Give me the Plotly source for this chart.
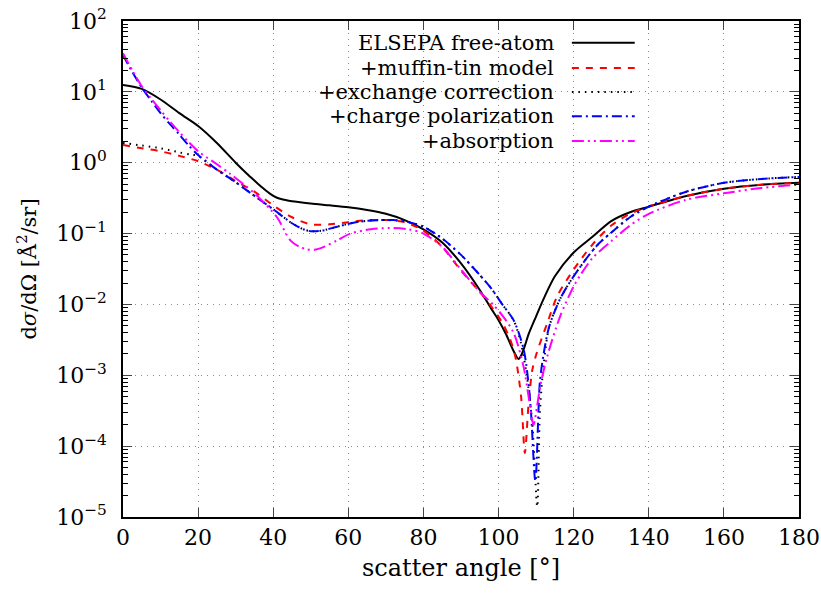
import plotly.graph_objects as go

# ---------------- data ----------------
ang_free = [0, 5, 10, 15, 20, 25, 30, 33, 35, 37, 39, 41, 43, 45, 50, 55, 60, 65, 70, 75, 80, 85, 90, 95, 98, 100, 102, 104, 105.3, 106, 107, 108, 110, 112, 115, 120, 125, 130, 135, 140, 150, 160, 170, 180]
val_free = [12.5, 11, 7.8, 5.0, 3.3, 1.9, 1.0, 0.7, 0.56, 0.45, 0.37, 0.32, 0.3, 0.285, 0.265, 0.25, 0.235, 0.215, 0.19, 0.155, 0.115, 0.075, 0.038, 0.016, 0.0088, 0.006, 0.0038, 0.0022, 0.0017, 0.0019, 0.0026, 0.0038, 0.0068, 0.012, 0.025, 0.054, 0.09, 0.15, 0.2, 0.24, 0.34, 0.43, 0.49, 0.52]

ang_mt = [0, 5, 10, 15, 20, 25, 30, 35, 40, 45, 50, 55, 60, 65, 70, 75, 80, 85, 90, 95, 98, 101, 103, 104.5, 106, 107, 108, 109, 110.2, 113, 115.6, 120, 125, 130, 135, 140, 150, 160, 170, 180]
val_mt = [1.78, 1.6, 1.45, 1.25, 1.05, 0.8, 0.55, 0.39, 0.25, 0.17, 0.135, 0.135, 0.145, 0.155, 0.155, 0.145, 0.11, 0.065, 0.03, 0.015, 0.0095, 0.0055, 0.0033, 0.0018, 0.0005, 0.00008, 0.0004, 0.0012, 0.0021, 0.0055, 0.013, 0.031, 0.07, 0.13, 0.19, 0.24, 0.34, 0.43, 0.49, 0.52]

ang_ex = [0, 5, 10, 15, 18, 20, 25, 30, 35, 40, 45, 48, 50, 53, 57, 62, 68, 72, 76, 80, 85, 90, 95, 98, 101, 104, 106, 107.5, 109, 110.3, 111, 112, 113.5, 116.4, 120, 126, 130.6, 135, 140, 150, 160, 170, 180]
val_ex = [1.9, 1.75, 1.6, 1.4, 1.3, 1.25, 0.8, 0.53, 0.34, 0.22, 0.14, 0.115, 0.108, 0.11, 0.125, 0.145, 0.155, 0.155, 0.145, 0.125, 0.085, 0.05, 0.026, 0.017, 0.01, 0.006, 0.0028, 0.001, 0.0002, 0.000014, 0.0003, 0.0014, 0.0049, 0.012, 0.025, 0.066, 0.11, 0.17, 0.24, 0.39, 0.52, 0.59, 0.63]

ang_pol = [0, 2.5, 5, 7.5, 10, 12.5, 15, 17.5, 20, 25, 30, 35, 40, 45, 48, 50, 53, 57, 62, 68, 72, 76, 80, 85, 90, 95, 98, 101, 104, 106.7, 108.4, 109.8, 111, 112, 113.5, 116.4, 120, 126, 130.6, 135, 140, 150, 160, 170, 180]
val_pol = [33, 19, 11.5, 7.5, 5.0, 3.5, 2.5, 1.75, 1.28, 0.8, 0.53, 0.34, 0.22, 0.14, 0.115, 0.108, 0.11, 0.125, 0.145, 0.155, 0.155, 0.145, 0.125, 0.085, 0.05, 0.026, 0.017, 0.01, 0.006, 0.0023, 0.00045, 0.000032, 0.0008, 0.002, 0.0049, 0.012, 0.025, 0.066, 0.11, 0.17, 0.24, 0.39, 0.52, 0.59, 0.63]

ang_abs = [0, 2.5, 5, 7.5, 10, 12.5, 15, 17.5, 20, 25, 28.5, 32, 35.5, 41, 44.5, 47, 49, 51, 53.5, 57, 60.5, 66, 71, 76, 80, 85, 90, 95, 98.5, 101, 104, 106.7, 108, 109.3, 110.2, 111.1, 112.9, 116.4, 120, 122, 125, 130, 135, 140, 150, 160, 170, 180]
val_abs = [35, 20, 12, 8, 5.5, 3.8, 2.7, 1.95, 1.45, 0.95, 0.7, 0.5, 0.35, 0.17, 0.081, 0.065, 0.06, 0.059, 0.065, 0.08, 0.1, 0.115, 0.12, 0.115, 0.1, 0.065, 0.031, 0.015, 0.01, 0.007, 0.004, 0.0013, 0.0005, 0.0002, 0.00035, 0.0007, 0.0018, 0.0068, 0.018, 0.027, 0.045, 0.078, 0.13, 0.19, 0.3, 0.37, 0.44, 0.49]

series_names = ["ELSEPA free-atom", "+muffin-tin model", "+exchange correction",
                "+charge polarization", "+absorption"]

y_tickvals = [1e2, 1e1, 1e0, 1e-1, 1e-2, 1e-3, 1e-4, 1e-5]
y_ticktext = ["10<sup>2</sup>", "10<sup>1</sup>", "10<sup>0</sup>", "10<sup>−1</sup>",
              "10<sup>−2</sup>", "10<sup>−3</sup>", "10<sup>−4</sup>", "10<sup>−5</sup>"]
x_tickvals = [0, 20, 40, 60, 80, 100, 120, 140, 160, 180]

# ---------------- styles ----------------
FONT = "'DejaVu Serif', serif"
styles = [
    dict(color="black", dash="solid", width=2),
    dict(color="#ff0000", dash="7px,7px", width=2),
    dict(color="black", dash="1.5px,5px", width=2),
    dict(color="#0000ff", dash="10px,4px,2px,4px", width=2),
    dict(color="#ff00ff", dash="12px,4px,2px,4px,2px,4px", width=2),
]
data = [(ang_free, val_free), (ang_mt, val_mt), (ang_ex, val_ex),
        (ang_pol, val_pol), (ang_abs, val_abs)]

fig = go.Figure()
for (xs, ys), st, nm in zip(data, styles, series_names):
    fig.add_trace(go.Scatter(x=xs, y=ys, mode="lines", name=nm,
                             line=dict(color=st["color"], dash=st["dash"], width=st["width"],
                                       shape="spline", smoothing=0.8),
                             showlegend=False))

minor_vals = [m * 10 ** e for e in range(-5, 2) for m in range(2, 10)]
GRID = dict(showgrid=True, gridcolor="#8a8a8a", griddash="1px,5px", gridwidth=1)

fig.update_xaxes(range=[0, 180], tickvals=x_tickvals, ticks="inside", ticklen=9,
                 showline=True, linecolor="black", linewidth=1.5, mirror="allticks",
                 zeroline=False, automargin=False, ticklabelstandoff=0,
                 tickfont=dict(family=FONT, size=22, color="black"),
                 title=dict(text="scatter angle [°]", font=dict(family=FONT, size=24, color="black"),
                            standoff=10), **GRID)
fig.update_yaxes(type="log", range=[-5, 2], tickvals=y_tickvals, ticktext=y_ticktext,
                 ticks="inside", ticklen=9,
                 minor=dict(tickvals=minor_vals, ticks="inside", ticklen=5, showgrid=False,
                            tickcolor="black"),
                 showline=True, linecolor="black", linewidth=1.5, mirror="allticks",
                 zeroline=False, automargin=False, ticklabelstandoff=10,
                 tickfont=dict(family=FONT, size=22, color="black"),
                 title=dict(text="d<i>σ</i>/dΩ [Å<sup>2</sup>/sr]",
                            font=dict(family=FONT, size=21, color="black"), standoff=14), **GRID)

# legend box (covers the grid, as in the reference)
fig.add_shape(type="rect", xref="paper", yref="paper", x0=0.22, x1=0.777, y0=0.72, y1=1.0,
              fillcolor="white", line=dict(width=0), layer="between")

row_y = [0.956, 0.905, 0.857, 0.808, 0.758]
for nm, st, yy in zip(series_names, styles, row_y):
    fig.add_annotation(xref="paper", yref="paper", x=0.641, y=yy, text=nm, showarrow=False,
                       xanchor="right", yanchor="middle",
                       font=dict(family=FONT, size=21, color="black"))
    fig.add_shape(type="line", xref="paper", yref="paper", x0=0.664, x1=0.757, y0=yy, y1=yy,
                  line=dict(color=st["color"], dash=st["dash"], width=st["width"]))

fig.update_layout(width=821, height=594, margin=dict(l=123, r=22, t=21, b=77),
                  plot_bgcolor="white", paper_bgcolor="white",
                  font=dict(family=FONT, color="black"))

fig.write_html("out.html")
